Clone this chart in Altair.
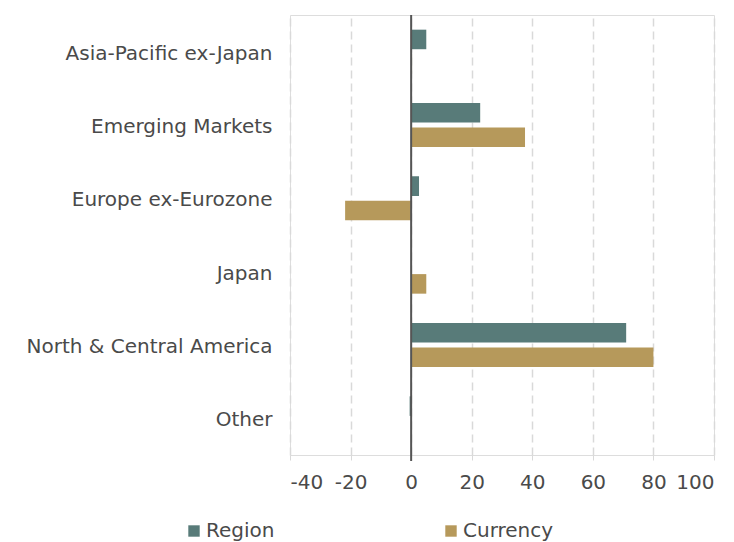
import altair as alt
import pandas as pd

categories = ["Asia-Pacific ex-Japan", "Emerging Markets", "Europe ex-Eurozone",
              "Japan", "North & Central America", "Other"]
region = [5.0, 22.8, 2.6, 0.0, 71.0, -0.5]
currency = [0.3, 37.6, -21.8, 5.0, 80.0, 0.0]
series = ["Region", "Currency"]
colors = ["#587b79", "#b6995b"]
x_ticks = [-40, -20, 0, 20, 40, 60, 80, 100]

rows = []
for c, r, cu in zip(categories, region, currency):
    rows.append({"category": c, "series": "Region", "value": r})
    rows.append({"category": c, "series": "Currency", "value": cu})
df = pd.DataFrame(rows)

FONT = "DejaVu Sans"
TXT = "#4a4a4a"
FS = 20

bars = alt.Chart(df).mark_bar().encode(
    y=alt.Y("category:N", sort=categories, title=None,
            scale=alt.Scale(paddingInner=0.4, paddingOuter=0.2),
            axis=alt.Axis(domain=False, ticks=False, labelFontSize=FS, labelFont=FONT,
                          labelColor=TXT, labelPadding=18, labelLimit=400, labelBaseline="middle",
                          labelOffset=2)),
    yOffset=alt.YOffset("series:N", sort=series, scale=alt.Scale(paddingInner=0.2)),
    x=alt.X("value:Q", title=None,
            scale=alt.Scale(domain=[-40, 100], nice=False, zero=False),
            axis=alt.Axis(values=x_ticks, grid=True, gridDash=[8, 5], gridColor="#d9d9d9",
                          gridWidth=1.5, domain=False, ticks=True, tickColor="#d9d9d9",
                          tickSize=5, labelFontSize=FS, labelFont=FONT, labelColor=TXT,
                          labelPadding=12, labelExpr="'' + datum.value")),
    color=alt.Color("series:N", sort=series,
                    scale=alt.Scale(domain=series, range=colors),
                    legend=alt.Legend(title=None, orient="none", direction="horizontal",
                                      legendX=-106, legendY=506, columns=2,
                                      columnPadding=166, symbolType="square",
                                      symbolSize=130, symbolStrokeWidth=0,
                                      labelFontSize=FS, labelFont=FONT, labelColor=TXT,
                                      labelOffset=2)),
)

zero = alt.Chart(pd.DataFrame({"x": [0]})).mark_rule(color="#555555", strokeWidth=2).encode(
    x=alt.X("x:Q", scale=alt.Scale(domain=[-40, 100], nice=False, zero=False)),
    y=alt.value(0), y2=alt.value(446))

chart = alt.layer(bars, zero).properties(
    width=424, height=440,
    autosize=alt.AutoSizeParams(type="none"),
    padding={"left": 290, "top": 15, "right": 20, "bottom": 87},
).configure_view(stroke=None).configure(background="white")

chart.save("out.html", embed_options={"renderer": "svg", "actions": False})
